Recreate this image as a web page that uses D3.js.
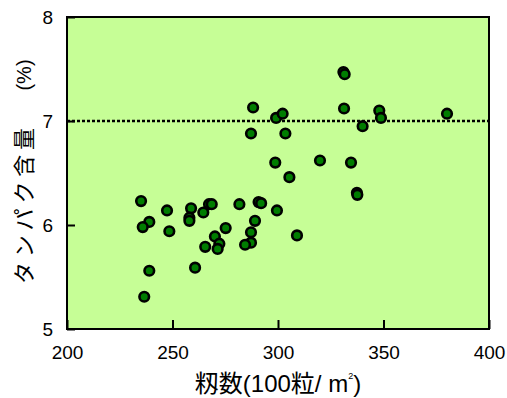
<!DOCTYPE html>
<html>
<head>
<meta charset="utf-8">
<script src="https://cdn.jsdelivr.net/npm/d3@7"></script>
<style>
  body { margin: 0; background: #fff; }
  text { font-family: "Liberation Sans", Arial, "Noto Sans CJK JP", sans-serif; }
</style>
</head>
<body>
<div id="container"></div>
<script>
// grains per m2 (x100) vs protein content (%)
const grainCount = [331.0, 331.6, 288.2, 299.1, 302.2, 331.3, 348.0, 348.8, 287.2, 303.5,
    298.7, 319.9, 334.6, 305.4, 337.4, 337.6, 340.1, 380.1, 281.7, 290.8,
    292.0, 299.5, 289.1, 275.2, 287.2, 309.0, 287.2, 284.4, 235.1, 247.4,
    258.8, 267.3, 268.6, 264.6, 239.0, 235.9, 258.0, 258.0, 248.5, 270.1,
    272.2, 265.5, 271.4, 260.7, 239.0, 236.6];
const protein = [7.47, 7.45, 7.13, 7.03, 7.07, 7.12, 7.10, 7.03, 6.88, 6.88,
    6.60, 6.62, 6.60, 6.46, 6.31, 6.29, 6.95, 7.07, 6.20, 6.22,
    6.21, 6.14, 6.04, 5.97, 5.93, 5.90, 5.83, 5.81, 6.23, 6.14,
    6.16, 6.20, 6.20, 6.12, 6.03, 5.98, 6.07, 6.04, 5.94, 5.89,
    5.82, 5.79, 5.77, 5.59, 5.56, 5.31];
const xTicks = [200, 250, 300, 350, 400];
const yTicks = [5, 6, 7, 8];
const refLine = 7;

const W = 507, H = 398;
const margin = {left: 67, top: 17, right: 18, bottom: 69};

const svg = d3.select("#container").append("svg")
    .attr("width", W)
    .attr("height", H);

const x = d3.scaleLinear().domain([200, 400]).range([margin.left, W - margin.right]);
const y = d3.scaleLinear().domain([5, 8]).range([H - margin.bottom, margin.top]);

// plot background
svg.append("rect")
    .attr("x", x(200)).attr("y", y(8))
    .attr("width", x(400) - x(200)).attr("height", y(5) - y(8))
    .attr("fill", "#c6fe96");

// reference line at 7%
svg.append("line")
    .attr("x1", x(200)).attr("x2", x(400))
    .attr("y1", y(refLine)).attr("y2", y(refLine))
    .attr("stroke", "#000")
    .attr("stroke-width", 2.5)
    .attr("stroke-dasharray", "3,2");

// axes with inward ticks
const xAxis = svg.append("g")
    .attr("transform", `translate(0,${y(5)})`)
    .call(d3.axisBottom(x).tickValues(xTicks).tickFormat(d3.format("d"))
        .tickSizeInner(-9).tickSizeOuter(0).tickPadding(17));
const yAxis = svg.append("g")
    .attr("transform", `translate(${x(200)},0)`)
    .call(d3.axisLeft(y).tickValues(yTicks).tickFormat(d3.format("d"))
        .tickSizeInner(-8).tickSizeOuter(0).tickPadding(14));

[xAxis, yAxis].forEach(g => {
    g.select(".domain").remove();
    g.selectAll("line").attr("stroke", "#000").attr("stroke-width", 2);
    g.selectAll("text").attr("font-size", 19).attr("fill", "#000")
        .style("font-family", "'Liberation Sans', Arial, sans-serif");
});
yAxis.selectAll("text").attr("dy", "0.36em");

// frame
svg.append("rect")
    .attr("x", x(200)).attr("y", y(8))
    .attr("width", x(400) - x(200)).attr("height", y(5) - y(8))
    .attr("fill", "none")
    .attr("stroke", "#000")
    .attr("stroke-width", 2);

// points
svg.append("g")
    .selectAll("circle")
    .data(grainCount.map((d, i) => [d, protein[i]]))
    .join("circle")
    .attr("cx", d => x(d[0]))
    .attr("cy", d => y(d[1]))
    .attr("r", 4.8)
    .attr("fill", "#007d00")
    .attr("stroke", "#000")
    .attr("stroke-width", 2.6);

// x title
const xt = svg.append("text")
    .attr("x", 278)
    .attr("y", 392)
    .attr("text-anchor", "middle")
    .attr("font-size", 24)
    .attr("fill", "#000");
xt.append("tspan").text("籾数(100粒/ m");
xt.append("tspan").attr("font-size", 9).attr("dy", -13).attr("dx", 0).text("2");
xt.append("tspan").attr("dy", 13).text(")");

// y title
svg.append("text")
    .attr("transform", "translate(32,206) rotate(-90)")
    .attr("text-anchor", "middle")
    .attr("font-size", 22)
    .attr("textLength", 156)
    .attr("fill", "#000")
    .text("タンパク含量");
svg.append("text")
    .attr("transform", "translate(31,75) rotate(-90)")
    .attr("text-anchor", "middle")
    .attr("font-size", 20)
    .attr("fill", "#000")
    .text("(%)");
</script>
</body>
</html>
